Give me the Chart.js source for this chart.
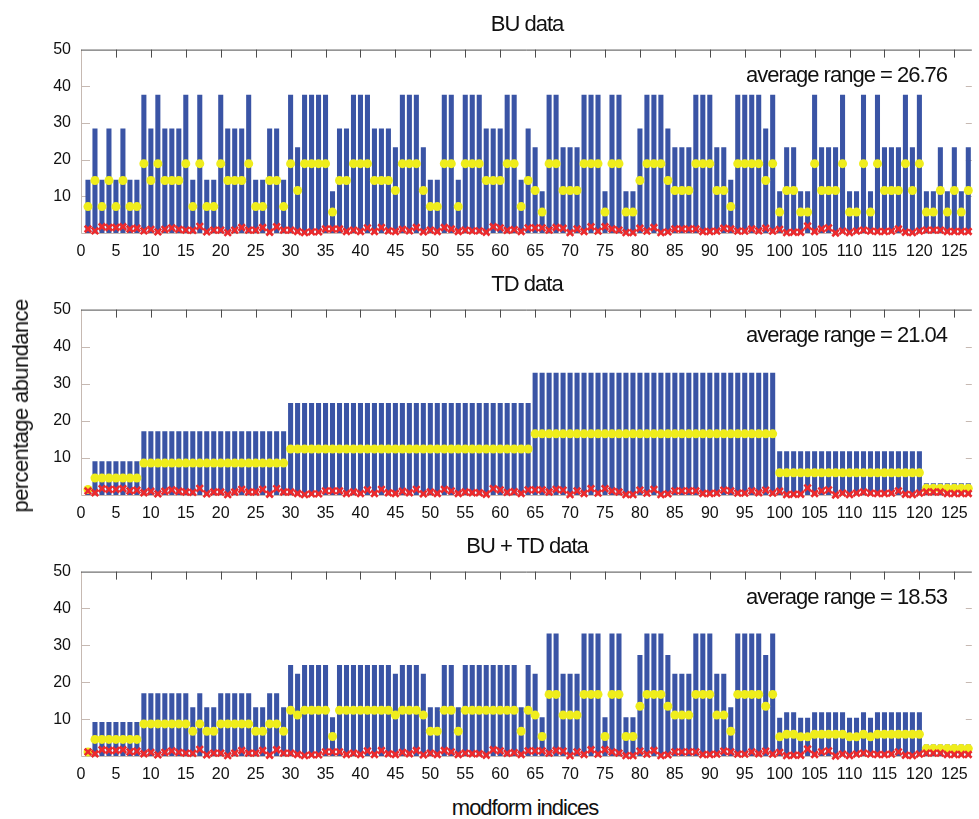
<!DOCTYPE html>
<html>
<head>
<meta charset="utf-8">
<script src="https://cdn.jsdelivr.net/npm/chart.js@4.4.1/dist/chart.umd.min.js"></script>
<style>
  body { margin: 0; background: #fff; }
  #wrap { position: relative; width: 979px; height: 819px; overflow: hidden; background: #fff; }
  canvas { position: absolute; left: 0; }
  .txt { position: absolute; font-family: "Liberation Sans", Arial, sans-serif; font-size: 22px;
         line-height: 22px; letter-spacing: -1px; color: #111; white-space: nowrap; }
  .ctr { transform: translateX(-50%); }
</style>
</head>
<body>
<div id="wrap">
  <canvas id="bu" width="979" height="240" style="top:30px"></canvas>
  <canvas id="td" width="979" height="242" style="top:290px"></canvas>
  <canvas id="both" width="979" height="241" style="top:552px"></canvas>

  <div class="txt ctr" style="left:527px; top:13px">BU data</div>
  <div class="txt ctr" style="left:527px; top:273px">TD data</div>
  <div class="txt ctr" style="left:527px; top:535px">BU + TD data</div>

  <div class="txt" style="right:32px; top:64px">average range = 26.76</div>
  <div class="txt" style="right:32px; top:324px">average range = 21.04</div>
  <div class="txt" style="right:32px; top:586px">average range = 18.53</div>

  <div class="txt" style="left:21px; top:406px; letter-spacing:-0.6px; transform:translate(-50%,-50%) rotate(-90deg)">percentage abundance</div>
  <div class="txt ctr" style="left:525px; top:797px">modform indices</div>
</div>

<script>
// modform index of every bar
var modformIndices = [
  1,2,3,4,5,6,7,8,9,10,11,12,13,14,15,16,17,18,19,20,
  21,22,23,24,25,26,27,28,29,30,31,32,33,34,35,36,37,38,39,40,
  41,42,43,44,45,46,47,48,49,50,51,52,53,54,55,56,57,58,59,60,
  61,62,63,64,65,66,67,68,69,70,71,72,73,74,75,76,77,78,79,80,
  81,82,83,84,85,86,87,88,89,90,91,92,93,94,95,96,97,98,99,100,
  101,102,103,104,105,106,107,108,109,110,111,112,113,114,115,116,117,118,119,120,
  121,122,123,124,125,126,127
];

// measured abundance (red crosses), same in all three panels
var measured = [
  1.1,0.6,1.7,1.5,1.5,1.7,1.1,1.3,0.6,1.0, 0.3,1.0,1.4,1.0,0.8,0.7,1.8,0.3,0.8,0.8,
  0.1,0.8,1.5,0.8,0.8,1.5,0.2,1.7,0.8,0.8, 0.4,0.1,0.3,0.3,1.1,1.1,1.1,0.4,0.8,0.4,
  1.4,0.4,1.5,0.6,0.4,1.0,0.6,1.5,0.3,0.8, 0.4,1.5,1.1,0.4,0.8,0.6,0.6,0.2,1.7,1.4,
  0.7,0.9,0.4,1.4,1.4,1.4,0.8,1.5,1.3,0.1, 1.1,0.4,1.7,0.5,1.7,1.1,0.8,0.1,0.1,1.3,
  0.5,1.5,0.1,0.3,1.1,1.1,1.1,1.1,0.4,0.4, 0.5,1.3,1.1,0.5,0.5,1.1,0.6,1.3,0.5,1.0,
  0.1,0.2,0.2,1.9,0.4,1.1,1.4,0.0,0.5,0.1, 0.5,0.8,0.5,0.4,0.4,0.5,1.1,0.2,0.1,0.5,
  0.8,0.8,0.8,0.4,0.4,0.4,0.4
];

// BU data: upper end of range (bars) and mid value (yellow)
var buRange = [
  14.4,28.4,14.4,28.4,14.4,28.4,14.4,14.4,37.6,28.4, 37.6,28.4,28.4,28.4,37.6,14.4,37.6,14.4,14.4,37.6,
  28.4,28.4,28.4,37.6,14.4,14.4,28.4,28.4,14.4,37.6, 23.3,37.6,37.6,37.6,37.6,11.3,28.4,28.4,37.6,37.6,
  37.6,28.4,28.4,28.4,23.3,37.6,37.6,37.6,23.3,14.4, 14.4,37.6,37.6,14.4,37.6,37.6,37.6,28.4,28.4,28.4,
  37.6,37.6,14.4,28.4,23.3,11.3,37.6,37.6,23.3,23.3, 23.3,37.6,37.6,37.6,11.3,37.6,37.6,11.3,11.3,28.4,
  37.6,37.6,37.6,28.4,23.3,23.3,23.3,37.6,37.6,37.6, 23.3,23.3,14.4,37.6,37.6,37.6,37.6,28.4,37.6,11.3,
  23.3,23.3,11.3,11.3,37.6,23.3,23.3,23.3,37.6,11.3, 11.3,37.6,11.3,37.6,23.3,23.3,23.3,37.6,23.3,37.6,
  11.3,11.3,23.3,11.3,23.3,11.3,23.3
];
var buMid = [
  7.2,14.3,7.2,14.3,7.2,14.3,7.2,7.2,18.9,14.3, 18.9,14.3,14.3,14.3,18.9,7.2,18.9,7.2,7.2,18.9,
  14.3,14.3,14.3,18.9,7.2,7.2,14.3,14.3,7.2,18.9, 11.6,18.9,18.9,18.9,18.9,5.7,14.3,14.3,18.9,18.9,
  18.9,14.3,14.3,14.3,11.6,18.9,18.9,18.9,11.6,7.2, 7.2,18.9,18.9,7.2,18.9,18.9,18.9,14.3,14.3,14.3,
  18.9,18.9,7.2,14.3,11.6,5.7,18.9,18.9,11.6,11.6, 11.6,18.9,18.9,18.9,5.7,18.9,18.9,5.7,5.7,14.3,
  18.9,18.9,18.9,14.3,11.6,11.6,11.6,18.9,18.9,18.9, 11.6,11.6,7.2,18.9,18.9,18.9,18.9,14.3,18.9,5.7,
  11.6,11.6,5.7,5.7,18.9,11.6,11.6,11.6,18.9,5.7, 5.7,18.9,5.7,18.9,11.6,11.6,11.6,18.9,11.6,18.9,
  5.7,5.7,11.6,5.7,11.6,5.7,11.6
];

// TD data
var tdRange = [
  1.5,9.0,9.0,9.0,9.0,9.0,9.0,9.0,17.1,17.1, 17.1,17.1,17.1,17.1,17.1,17.1,17.1,17.1,17.1,17.1,
  17.1,17.1,17.1,17.1,17.1,17.1,17.1,17.1,17.1,24.7, 24.7,24.7,24.7,24.7,24.7,24.7,24.7,24.7,24.7,24.7,
  24.7,24.7,24.7,24.7,24.7,24.7,24.7,24.7,24.7,24.7, 24.7,24.7,24.7,24.7,24.7,24.7,24.7,24.7,24.7,24.7,
  24.7,24.7,24.7,24.7,32.9,32.9,32.9,32.9,32.9,32.9, 32.9,32.9,32.9,32.9,32.9,32.9,32.9,32.9,32.9,32.9,
  32.9,32.9,32.9,32.9,32.9,32.9,32.9,32.9,32.9,32.9, 32.9,32.9,32.9,32.9,32.9,32.9,32.9,32.9,32.9,11.7,
  11.7,11.7,11.7,11.7,11.7,11.7,11.7,11.7,11.7,11.7, 11.7,11.7,11.7,11.7,11.7,11.7,11.7,11.7,11.7,11.7,
  3.1,3.1,3.1,3.1,3.1,3.1,3.1
];
var tdMid = [
  1.5,4.6,4.6,4.6,4.6,4.6,4.6,4.6,8.6,8.6, 8.6,8.6,8.6,8.6,8.6,8.6,8.6,8.6,8.6,8.6,
  8.6,8.6,8.6,8.6,8.6,8.6,8.6,8.6,8.6,12.4, 12.4,12.4,12.4,12.4,12.4,12.4,12.4,12.4,12.4,12.4,
  12.4,12.4,12.4,12.4,12.4,12.4,12.4,12.4,12.4,12.4, 12.4,12.4,12.4,12.4,12.4,12.4,12.4,12.4,12.4,12.4,
  12.4,12.4,12.4,12.4,16.5,16.5,16.5,16.5,16.5,16.5, 16.5,16.5,16.5,16.5,16.5,16.5,16.5,16.5,16.5,16.5,
  16.5,16.5,16.5,16.5,16.5,16.5,16.5,16.5,16.5,16.5, 16.5,16.5,16.5,16.5,16.5,16.5,16.5,16.5,16.5,6.0,
  6.0,6.0,6.0,6.0,6.0,6.0,6.0,6.0,6.0,6.0, 6.0,6.0,6.0,6.0,6.0,6.0,6.0,6.0,6.0,6.0,
  1.8,1.8,1.8,1.8,1.8,1.8,1.8
];

// BU + TD data
var bothRange = [
  1.1,9.1,9.1,9.1,9.1,9.1,9.1,9.1,16.9,16.9, 16.9,16.9,16.9,16.9,16.9,13.1,16.9,13.1,13.1,16.9,
  16.9,16.9,16.9,16.9,13.1,13.1,16.9,16.9,13.1,24.6, 22.2,24.6,24.6,24.6,24.6,10.4,24.6,24.6,24.6,24.6,
  24.6,24.6,24.6,24.6,22.2,24.6,24.6,24.6,22.2,13.1, 13.1,24.6,24.6,13.1,24.6,24.6,24.6,24.6,24.6,24.6,
  24.6,24.6,13.1,24.6,22.2,10.4,33.1,33.1,22.2,22.2, 22.2,33.1,33.1,33.1,10.4,33.1,33.1,10.4,10.4,27.3,
  33.1,33.1,33.1,27.3,22.2,22.2,22.2,33.1,33.1,33.1, 22.2,22.2,13.1,33.1,33.1,33.1,33.1,27.3,33.1,10.3,
  11.8,11.8,10.3,10.3,11.8,11.8,11.8,11.8,11.8,10.3, 10.3,11.8,10.3,11.8,11.8,11.8,11.8,11.8,11.8,11.8,
  3.0,3.0,3.0,3.0,3.0,3.0,3.0
];
var bothMid = [
  1.1,4.5,4.5,4.5,4.5,4.5,4.5,4.5,8.7,8.7, 8.7,8.7,8.7,8.7,8.7,6.7,8.7,6.7,6.7,8.7,
  8.7,8.7,8.7,8.7,6.7,6.7,8.7,8.7,6.7,12.4, 11.1,12.4,12.4,12.4,12.4,5.3,12.4,12.4,12.4,12.4,
  12.4,12.4,12.4,12.4,11.1,12.4,12.4,12.4,11.1,6.7, 6.7,12.4,12.4,6.7,12.4,12.4,12.4,12.4,12.4,12.4,
  12.4,12.4,6.7,12.4,11.1,5.3,16.7,16.7,11.1,11.1, 11.1,16.7,16.7,16.7,5.3,16.7,16.7,5.3,5.3,13.5,
  16.7,16.7,16.7,13.5,11.1,11.1,11.1,16.7,16.7,16.7, 11.1,11.1,6.7,16.7,16.7,16.7,16.7,13.5,16.7,5.2,
  5.9,5.9,5.2,5.2,5.9,5.9,5.9,5.9,5.9,5.2, 5.2,5.9,5.2,5.9,5.9,5.9,5.9,5.9,5.9,5.9,
  2.0,2.0,2.0,2.0,2.0,2.0,2.0
];

var BLUE = '#3a54a5', YELLOW = '#efed1c', RED = '#ec2a2c';

Chart.defaults.font.family = '"Liberation Sans", Arial, sans-serif';
Chart.defaults.color = '#111';

function pts(arr) {
  return modformIndices.map(function (x, k) { return { x: x, y: arr[k] }; });
}

// matlab style box: light left/bottom axis, dark top, ticks pointing inward
var boxAxes = {
  id: 'boxAxes',
  beforeDatasetsDraw: function (chart) {
    var ctx = chart.ctx, a = chart.chartArea, xs = chart.scales.x, ys = chart.scales.y;
    ctx.save();
    ctx.lineWidth = 1;
    ctx.strokeStyle = '#c6b9b2';
    ctx.beginPath();
    ctx.moveTo(a.left + 0.5, a.top);
    ctx.lineTo(a.left + 0.5, a.bottom + 0.5);
    ctx.lineTo(a.right, a.bottom + 0.5);
    ys.ticks.forEach(function (t) {
      if (t.value <= 0 || t.value >= 50) return;
      var py = Math.round(ys.getPixelForValue(t.value)) + 0.5;
      ctx.moveTo(a.left, py); ctx.lineTo(a.left + 9, py);
      ctx.moveTo(a.right - 6, py); ctx.lineTo(a.right, py);
    });
    ctx.stroke();
    ctx.strokeStyle = '#4d4d4d';
    ctx.beginPath();
    ctx.moveTo(a.left, a.top + 0.5);
    ctx.lineTo(a.right, a.top + 0.5);
    xs.ticks.forEach(function (t) {
      if (t.value <= 0) return;
      var px = Math.round(xs.getPixelForValue(t.value)) + 0.5;
      ctx.moveTo(px, a.top); ctx.lineTo(px, a.top + 8);
    });
    ctx.stroke();
    ctx.restore();
  }
};

function makePanel(id, range, mid) {
  new Chart(document.getElementById(id), {
    type: 'bar',
    data: {
      datasets: [
        { type: 'line', data: pts(measured), showLine: false, pointStyle: 'crossRot',
          pointRadius: 4.6, pointBorderWidth: 2.6, borderColor: RED, backgroundColor: RED, clip: false, order: 0 },
        { type: 'line', data: pts(mid), showLine: false, pointStyle: 'circle',
          pointRadius: 4.5, pointBorderWidth: 0, borderColor: YELLOW, backgroundColor: YELLOW, clip: false, order: 1 },
        { type: 'bar', data: pts(range), backgroundColor: BLUE, barThickness: 4.4, order: 2 }
      ]
    },
    options: {
      animation: false,
      responsive: false,
      devicePixelRatio: 1,
      layout: { padding: { top: 16, right: 2, left: 0, bottom: 0 } },
      plugins: { legend: { display: false }, tooltip: { enabled: false } },
      scales: {
        x: {
          type: 'linear', min: 0, max: 127.5, offset: false,
          grid: { display: false, drawTicks: false }, border: { display: false },
          ticks: { stepSize: 5, includeBounds: false, autoSkip: false, maxRotation: 0,
                   padding: 9, font: { size: 16 }, color: '#111' },
          afterFit: function (s) { s.height = 37; }
        },
        y: {
          min: 0, max: 50,
          grid: { display: false, drawTicks: false }, border: { display: false },
          ticks: { stepSize: 10, padding: 10, font: { size: 16 }, color: '#111',
                   callback: function (v) { return v === 0 ? '' : v; } },
          afterFit: function (s) { s.width = 81; }
        }
      }
    },
    plugins: [boxAxes]
  });
}

makePanel('bu', buRange, buMid);
makePanel('td', tdRange, tdMid);
makePanel('both', bothRange, bothMid);
</script>
</body>
</html>
